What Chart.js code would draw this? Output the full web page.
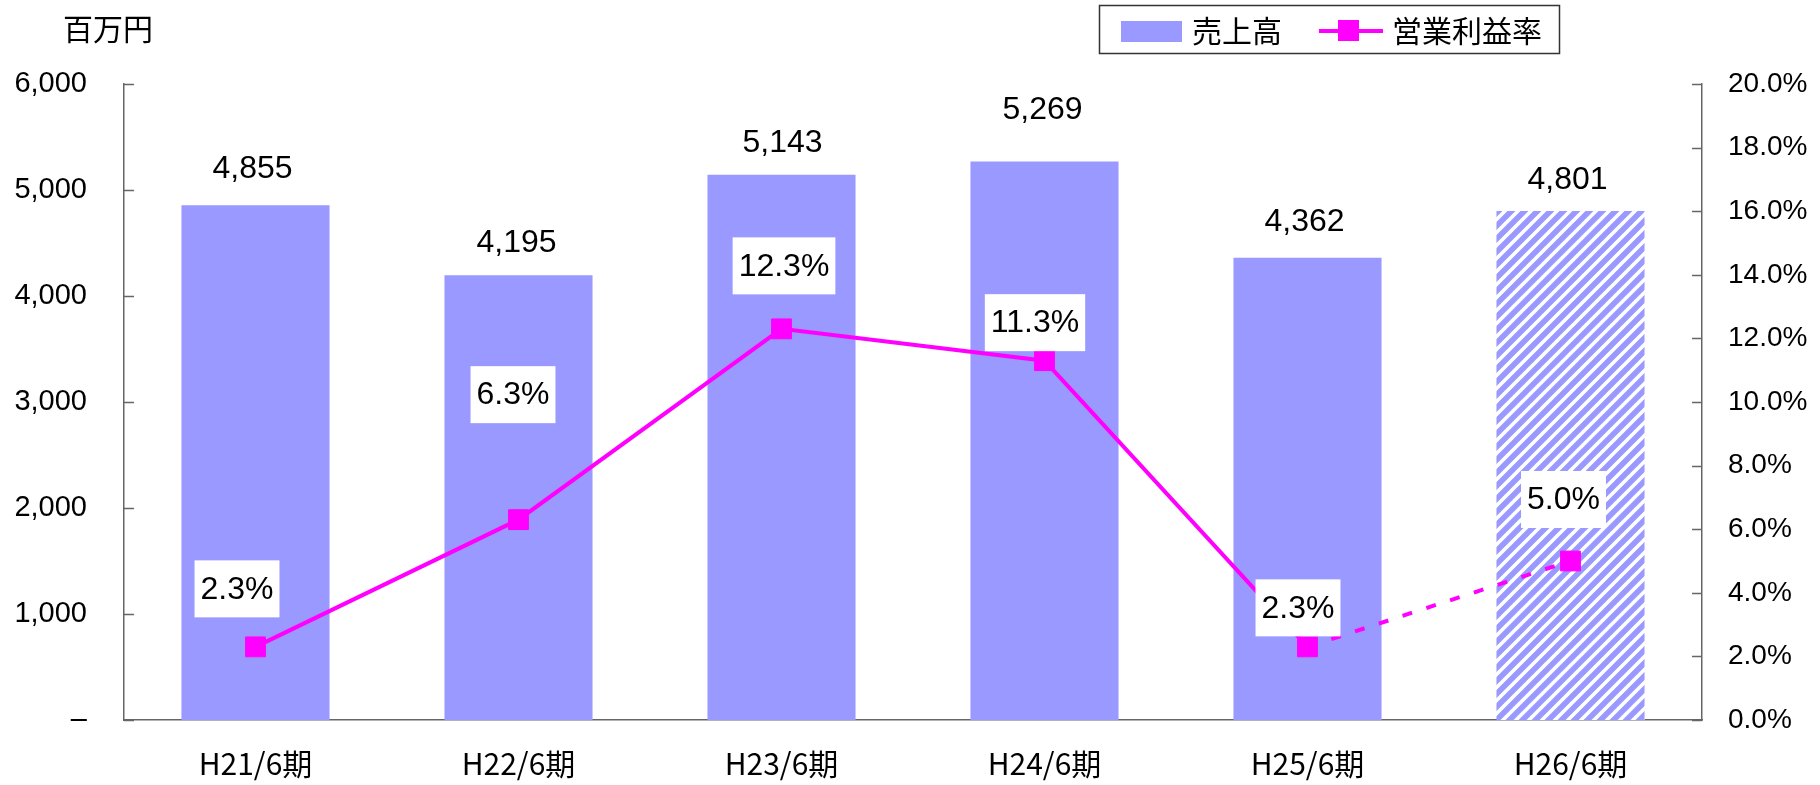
<!DOCTYPE html>
<html><head><meta charset="utf-8">
<script src="https://cdn.jsdelivr.net/npm/chart.js@4.4.1/dist/chart.umd.min.js"></script>
<style>html,body{margin:0;padding:0;background:#fff}#wrap{width:1820px;height:785px;position:relative}</style>
</head><body><div id="wrap"><canvas id="c"></canvas></div>
<script>
// ---- data ----
const categories = ['H21/6期', 'H22/6期', 'H23/6期', 'H24/6期', 'H25/6期', 'H26/6期'];
const salesValues = [4855, 4195, 5143, 5269, 4362, 4801];
const marginValues = [2.3, 6.3, 12.3, 11.3, 2.3, 5.0];
const salesAxisTicks = [0, 1000, 2000, 3000, 4000, 5000, 6000];
const marginAxisTicks = [0, 2, 4, 6, 8, 10, 12, 14, 16, 18, 20];
const seriesNames = ['売上高', '営業利益率'];
const unitLabel = '百万円';
const forecastIndex = 5;

// ---- style (label nudges in px, as placed in the original) ----
const salesLabelShift = [[-3, -36], [-2, -32], [1, -32], [-2, -51], [-3, -35], [-3, -31]];
const marginLabelShift = [[-18.5, -58], [-5.5, -125], [2.5, -63], [-9.5, -38], [-9.5, -39], [-7, -61.5]];
const BAR = '#9999FF', LINE = '#FF00FF', AXIS = '#666666';
const LATIN = '"Liberation Sans", Arial, sans-serif';
const CJK = '"Noto Sans CJK JP", sans-serif';

function makeHatch(ctx) {
  const s = 13;
  const c = document.createElement('canvas');
  c.width = s; c.height = s;
  const g = c.getContext('2d');
  g.fillStyle = BAR; g.fillRect(0, 0, s, s);
  g.strokeStyle = '#ffffff'; g.lineWidth = 3.6;
  g.beginPath();
  g.moveTo(-s, s); g.lineTo(s, -s);
  g.moveTo(0, s); g.lineTo(s, 0);
  g.moveTo(0, 2 * s); g.lineTo(2 * s, 0);
  g.stroke();
  return ctx.createPattern(c, 'repeat');
}

const canvas = document.getElementById('c');
const ctx0 = canvas.getContext('2d');
const hatch = makeHatch(ctx0);

Chart.defaults.color = '#000';
Chart.defaults.font.family = LATIN;

const decorPlugin = {
  id: 'decor',
  afterDatasetsDraw(chart) {
    const ctx = chart.ctx;
    ctx.save();
    const barMeta = chart.getDatasetMeta(0);
    ctx.font = '32px ' + LATIN;
    ctx.textAlign = 'center'; ctx.textBaseline = 'middle'; ctx.fillStyle = '#000';
    barMeta.data.forEach((el, i) => {
      const [dx, dy] = salesLabelShift[i];
      ctx.fillText(salesValues[i].toLocaleString('en-US'), el.x + dx, el.y + dy);
    });
    const lineMeta = chart.getDatasetMeta(1);
    lineMeta.data.forEach((el, i) => {
      const [dx, dy] = marginLabelShift[i];
      const t = marginValues[i].toFixed(1) + '%';
      const w = ctx.measureText(t).width + 12, h = 57;
      const cx = el.x + dx, cy = el.y + dy;
      ctx.fillStyle = '#fff';
      ctx.fillRect(cx - w / 2, cy - h / 2, w, h);
      ctx.fillStyle = '#000';
      ctx.fillText(t, cx, cy + 1);
    });
    ctx.restore();
  },
  afterDraw(chart) {
    const ctx = chart.ctx;
    ctx.save();
    const y = chart.scales.y, y1 = chart.scales.y1;
    ctx.strokeStyle = AXIS; ctx.lineWidth = 1.5;
    ctx.beginPath();
    y.ticks.forEach(t => { const p = Math.round(y.getPixelForValue(t.value)) + 0.5; ctx.moveTo(y.right, p); ctx.lineTo(y.right + 10, p); });
    y1.ticks.forEach(t => { const p = Math.round(y1.getPixelForValue(t.value)) + 0.5; ctx.moveTo(y1.left, p); ctx.lineTo(y1.left - 10, p); });
    ctx.stroke();
    ctx.fillStyle = '#000';
    ctx.font = '30px ' + CJK;
    ctx.textAlign = 'center'; ctx.textBaseline = 'middle';
    ctx.fillText(unitLabel, 108, 29);
    ctx.strokeStyle = '#333'; ctx.lineWidth = 1.5;
    ctx.strokeRect(1099.5, 5.5, 460, 48);
    ctx.fillStyle = BAR; ctx.fillRect(1121, 21, 61, 21);
    ctx.fillStyle = '#000'; ctx.font = '30px ' + CJK;
    ctx.textAlign = 'left';
    ctx.fillText(seriesNames[0], 1192, 31);
    ctx.strokeStyle = LINE; ctx.lineWidth = 4;
    ctx.beginPath(); ctx.moveTo(1319, 31); ctx.lineTo(1383, 31); ctx.stroke();
    ctx.fillStyle = LINE; ctx.fillRect(1338, 20, 21, 21);
    ctx.fillStyle = '#000';
    ctx.fillText(seriesNames[1], 1392, 31);
    ctx.restore();
  }
};

new Chart(canvas, {
  type: 'bar',
  data: {
    labels: categories,
    datasets: [
      {
        type: 'bar', label: seriesNames[0], data: salesValues, yAxisID: 'y', order: 2,
        backgroundColor: salesValues.map((v, i) => i === forecastIndex ? hatch : BAR),
        borderWidth: 0, barPercentage: 0.563, categoryPercentage: 1
      },
      {
        type: 'line', label: seriesNames[1], data: marginValues, yAxisID: 'y1', order: 1,
        borderColor: LINE, borderWidth: 4, backgroundColor: LINE,
        pointStyle: 'rect', pointRadius: 14, pointBorderWidth: 1, pointBorderColor: LINE, pointBackgroundColor: LINE,
        tension: 0, fill: false,
        segment: { borderDash: c => (c.p1DataIndex === forecastIndex ? [10, 15] : undefined) }
      }
    ]
  },
  options: {
    responsive: true, maintainAspectRatio: false, animation: false, events: [],
    layout: { padding: { top: 84, left: 0, right: 0, bottom: 0 } },
    plugins: { legend: { display: false }, tooltip: { enabled: false }, title: { display: false } },
    scales: {
      x: {
        grid: { display: false, drawTicks: false },
        border: { display: true, color: AXIS, width: 1.5 },
        ticks: { font: { family: CJK, size: 30 }, padding: 26, color: '#000' },
        afterFit: s => { s.height = 65; }
      },
      y: {
        position: 'left', min: 0, max: 6000,
        grid: { display: false, drawTicks: false },
        border: { display: true, color: AXIS, width: 1.5 },
        afterBuildTicks: s => { s.ticks = salesAxisTicks.map(v => ({ value: v })); },
        ticks: { font: { size: 29 }, padding: 37, color: '#000',
          callback: v => (v === 0 ? '–' : v.toLocaleString('en-US')) },
        afterFit: s => { s.width = 124; }
      },
      y1: {
        position: 'right', min: 0, max: 20,
        grid: { display: false, drawTicks: false },
        border: { display: true, color: AXIS, width: 1.5 },
        afterBuildTicks: s => { s.ticks = marginAxisTicks.map(v => ({ value: v })); },
        ticks: { font: { size: 28 }, padding: 26, color: '#000', callback: v => v.toFixed(1) + '%' },
        afterFit: s => { s.width = 118; }
      }
    }
  },
  plugins: [decorPlugin]
});
</script>
</body></html>
